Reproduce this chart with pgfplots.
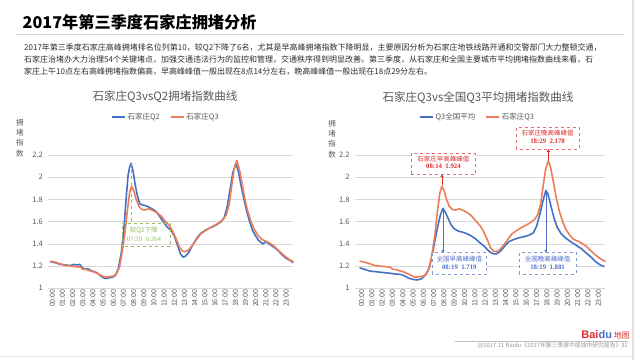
\documentclass[border=0pt]{standalone}
\usepackage{pgfplots}
\pgfplotsset{compat=1.18}
\usepackage{pgfplotstable}
\usepackage{fontspec}
\setmainfont{Noto Sans CJK SC}
\newfontfamily\serifnum{Liberation Serif}
\newfontfamily\latinsans{Liberation Sans}
\usetikzlibrary{arrows.meta}
\definecolor{qblue}{RGB}{68,114,196}
\definecolor{qorange}{RGB}{237,125,90}
\definecolor{tickgray}{RGB}{89,89,89}
\definecolor{gridgray}{RGB}{217,217,217}
\definecolor{annred}{RGB}{222,45,45}
\definecolor{annblue}{RGB}{80,110,200}
\definecolor{anngreen}{RGB}{150,190,90}
\definecolor{bodytext}{RGB}{45,45,45}

\pgfplotstableread{
h v
0 1.24
0.5 1.23
1.0 1.215
1.5 1.21
2.0 1.205
2.3 1.215
2.6 1.21
2.9 1.215
3.1 1.19
3.4 1.17
3.7 1.175
4.0 1.16
4.3 1.15
4.6 1.14
4.9 1.115
5.2 1.095
5.5 1.09
5.8 1.095
6.1 1.10
6.4 1.115
6.7 1.18
7.0 1.33
7.25 1.55
7.45 1.80
7.65 2.02
7.8 2.09
7.95 2.125
8.15 2.05
8.35 1.93
8.55 1.84
8.8 1.76
9.1 1.75
9.5 1.74
9.9 1.72
10.3 1.70
10.7 1.655
11.1 1.60
11.5 1.55
11.9 1.52
12.2 1.47
12.5 1.39
12.8 1.31
13.05 1.28
13.3 1.29
13.6 1.32
14.0 1.39
14.4 1.45
14.8 1.495
15.2 1.52
15.6 1.54
16.0 1.555
16.4 1.575
16.8 1.60
17.1 1.635
17.4 1.735
17.7 1.90
17.95 2.04
18.25 2.125
18.5 2.05
18.75 1.93
19.0 1.82
19.3 1.70
19.6 1.60
19.9 1.52
20.2 1.47
20.5 1.43
20.9 1.40
21.2 1.42
21.5 1.40
22.0 1.37
22.4 1.34
22.8 1.30
23.2 1.27
23.6 1.25
23.9 1.23
}\tblQtwo

\pgfplotstableread{
h v
0 1.245
0.5 1.235
1.0 1.22
1.5 1.205
2.0 1.20
2.5 1.195
3.0 1.19
3.2 1.17
3.5 1.17
3.8 1.16
4.2 1.15
4.6 1.135
5.0 1.115
5.4 1.10
5.8 1.105
6.2 1.11
6.5 1.13
6.8 1.19
7.0 1.29
7.3 1.47
7.55 1.68
7.8 1.86
8.0 1.92
8.2 1.88
8.45 1.80
8.7 1.74
9.0 1.71
9.3 1.705
9.7 1.715
10.1 1.70
10.5 1.68
10.9 1.65
11.3 1.605
11.7 1.565
12.0 1.52
12.4 1.44
12.7 1.37
13.0 1.335
13.3 1.33
13.6 1.345
14.0 1.39
14.4 1.44
14.8 1.49
15.2 1.515
15.6 1.54
16.0 1.56
16.5 1.585
17.0 1.62
17.3 1.66
17.6 1.76
17.85 1.93
18.1 2.08
18.35 2.15
18.6 2.07
18.85 1.95
19.1 1.82
19.4 1.70
19.7 1.61
20.0 1.54
20.4 1.48
20.8 1.44
21.2 1.425
21.6 1.405
22.0 1.38
22.4 1.345
22.8 1.31
23.2 1.28
23.6 1.255
23.9 1.24
}\tblQthree

\pgfplotstableread{
h v
0 1.185
0.5 1.17
1.0 1.155
1.5 1.15
2.0 1.145
2.5 1.14
3.0 1.135
3.5 1.128
4.0 1.125
4.4 1.11
4.8 1.09
5.2 1.08
5.6 1.075
6.0 1.085
6.4 1.12
6.7 1.17
7.0 1.27
7.3 1.42
7.6 1.56
7.85 1.66
8.1 1.72
8.35 1.68
8.6 1.63
8.9 1.57
9.2 1.535
9.6 1.515
10.2 1.50
10.7 1.48
11.2 1.45
11.7 1.41
12.2 1.37
12.6 1.33
13.0 1.31
13.3 1.31
13.7 1.335
14.1 1.38
14.5 1.42
15.0 1.44
15.5 1.455
16.0 1.465
16.5 1.48
16.9 1.50
17.2 1.56
17.5 1.66
17.8 1.78
18.1 1.88
18.3 1.85
18.6 1.74
18.9 1.63
19.2 1.55
19.6 1.49
20.0 1.455
20.5 1.42
21.0 1.39
21.5 1.36
22.0 1.32
22.5 1.28
23.0 1.235
23.4 1.21
23.8 1.195
}\tblNation

\pgfplotsset{trafficaxis/.style={
  scale only axis, height=133.3pt,
  ymin=1, ymax=2.2, ytick={1,1.2,1.4,1.6,1.8,2,2.2},
  xtick={0,...,23},
  xticklabels={00:00,01:00,02:00,03:00,04:00,05:00,06:00,07:00,08:00,09:00,10:00,11:00,12:00,13:00,14:00,15:00,16:00,17:00,18:00,19:00,20:00,21:00,22:00,23:00},
  x tick label style={rotate=90, anchor=east, font=\fontsize{7}{8}\selectfont, text=tickgray, inner sep=1pt, yshift=-2pt},
  y tick label style={font=\fontsize{7.5}{9}\selectfont, text=tickgray, xshift=-2pt},
  /pgf/number format/assume math mode=true,
  ymajorgrids, grid style={gridgray, line width=0.7pt},
  axis line style={draw=none}, major tick length=0pt,
  clip=false,
  legend style={draw=none, fill=none, legend columns=2, font=\fontsize{7.5}{9}\selectfont, text=tickgray,
    /tikz/every even column/.append style={column sep=8pt}, inner sep=0pt},
  legend image code/.code={\draw[#1] (0pt,0pt) -- (13pt,0pt);},
  every axis plot/.append style={line width=1.6pt, line join=round},
}}

\begin{document}
\begin{tikzpicture}
\useasboundingbox (0,0) rectangle (640pt,360pt);
\fill[white] (0,0) rectangle (640pt,360pt);
% slide frame
\draw[black!12, line width=1.5pt] (633pt,0pt) -- (633pt,360pt);
\draw[black!10, line width=1pt] (0pt,4pt) -- (633pt,4pt);
% main title
\node[anchor=west, inner sep=0pt, text=black] at (22.5pt,337.3pt) {\fontsize{16.2}{19}\selectfont\bfseries 2017年第三季度石家庄拥堵分析};
\draw[black!15, line width=1pt] (15pt,325.7pt) -- (625pt,325.7pt);
% body text
\begin{scope}[every node/.style={anchor=west, inner sep=0pt, text=bodytext, font=\fontsize{8}{10}\selectfont}]
\node at (24pt,312.3pt) {2017年第三季度石家庄高峰拥堵排名位列第10，较Q2下降了6名，尤其是早高峰拥堵指数下降明显，主要原因分析为石家庄地铁线路开通和交警部门大力整顿交通，};
\node at (24pt,300pt) {石家庄治堵办大力治理54个关键堵点，加强交通违法行为的监控和管理，交通秩序得到明显改善。第三季度，从石家庄和全国主要城市平均拥堵指数曲线来看，石};
\node at (24pt,288.3pt) {家庄上午10点左右高峰拥堵指数偏高，早高峰峰值一般出现在8点14分左右，晚高峰峰值一般出现在18点29分左右。};
\end{scope}
% chart titles
\node[text=tickgray, inner sep=0pt] at (165pt,263pt) {\fontsize{11.5}{13}\selectfont 石家庄Q3vsQ2拥堵指数曲线};
\node[text=tickgray, inner sep=0pt] at (478pt,262.5pt) {\fontsize{11.5}{13}\selectfont 石家庄Q3vs全国Q3平均拥堵指数曲线};
% vertical axis labels
\node[text=tickgray, align=center, inner sep=0pt, font=\fontsize{7.5}{10.3}\selectfont] at (20pt,222pt) {拥\\堵\\指\\数};
\node[text=tickgray, align=center, inner sep=0pt, font=\fontsize{7.5}{10.3}\selectfont] at (332pt,221pt) {拥\\堵\\指\\数};

% ---------- left chart ----------
\begin{axis}[trafficaxis, at={(48.3pt,71.7pt)}, anchor=south west, width=245pt,
  xmin=-0.2, xmax=23.9,
  legend style={at={(axis description cs:0.48,1.285)}, anchor=center}]
\addplot[qblue] table[x=h,y=v] {\tblQtwo};
\addlegendentry{石家庄Q2}
\addplot[qorange] table[x=h,y=v] {\tblQthree};
\addlegendentry{石家庄Q3}
\draw[anngreen, dashed, line width=0.6pt] (axis cs:7.95,2.12) -- (axis cs:7.95,1.588);
\draw[anngreen, dashed, line width=0.6pt] (axis cs:7.05,1.375) rectangle (axis cs:11.8,1.588);
\node[text=anngreen, inner sep=0pt, font=\fontsize{6.5}{8}\selectfont] at (axis cs:9.2,1.525) {较Q2下降};
\node[text=anngreen, inner sep=0pt, font=\fontsize{6.8}{8}\serifnum] at (axis cs:9.2,1.44) {07:59\ \ 0.264};
\end{axis}

% ---------- right chart ----------
\begin{axis}[trafficaxis, at={(355pt,71.7pt)}, anchor=south west, width=250pt,
  xmin=-0.45, xmax=23.85,
  legend style={at={(axis description cs:0.49,1.285)}, anchor=center}]
\addplot[qblue] table[x=h,y=v] {\tblNation};
\addlegendentry{Q3全国平均}
\addplot[qorange] table[x=h,y=v] {\tblQthree};
\addlegendentry{石家庄Q3}
% red annotations
\draw[annred, line width=0.6pt, -{Triangle[length=3pt,width=3pt]}] (axis cs:8.0,1.93) -- (axis cs:8.0,2.027);
\draw[annred!70, dashed, line width=0.6pt, fill=white] (axis cs:5.02,2.027) rectangle (axis cs:11.27,2.216);
\node[text=annred, inner sep=0pt, font=\fontsize{6.5}{8}\selectfont] at (axis cs:8.15,2.165) {石家庄早高峰峰值};
\node[text=annred, inner sep=0pt, font=\fontsize{6.8}{8}\serifnum\bfseries] at (axis cs:8.15,2.10) {08:14\ \ 1.924};
\draw[annred, line width=0.6pt, -{Triangle[length=3pt,width=3pt]}] (axis cs:18.35,2.155) -- (axis cs:18.35,2.255);
\draw[annred!70, dashed, line width=0.6pt, fill=white] (axis cs:15.23,2.255) rectangle (axis cs:21.31,2.45);
\node[text=annred, inner sep=0pt, font=\fontsize{6.5}{8}\selectfont] at (axis cs:18.27,2.395) {石家庄晚高峰峰值};
\node[text=annred, inner sep=0pt, font=\fontsize{6.8}{8}\serifnum\bfseries] at (axis cs:18.27,2.325) {18:29\ \ 2.178};
% blue annotations
\draw[annblue, line width=0.6pt, -{Triangle[length=3pt,width=3pt]}] (axis cs:8.1,1.72) -- (axis cs:8.1,1.32);
\draw[annblue!70, dashed, line width=0.6pt, fill=white] (axis cs:7.07,1.129) rectangle (axis cs:12.31,1.32);
\node[text=annblue, inner sep=0pt, font=\fontsize{6.5}{8}\selectfont] at (axis cs:9.69,1.265) {全国早高峰峰值};
\node[text=annblue, inner sep=0pt, font=\fontsize{6.8}{8}\serifnum\bfseries] at (axis cs:9.69,1.19) {08:19\ \ 1.719};
\draw[annblue, line width=0.6pt, -{Triangle[length=3pt,width=3pt]}] (axis cs:18.1,1.88) -- (axis cs:18.1,1.32);
\draw[annblue!70, dashed, line width=0.6pt, fill=white] (axis cs:15.48,1.129) rectangle (axis cs:21.06,1.32);
\node[text=annblue, inner sep=0pt, font=\fontsize{6.5}{8}\selectfont] at (axis cs:18.27,1.265) {全国晚高峰峰值};
\node[text=annblue, inner sep=0pt, font=\fontsize{6.8}{8}\serifnum\bfseries] at (axis cs:18.27,1.19) {18:19\ \ 1.881};
\end{axis}

% footer
\node[anchor=east, inner sep=0pt] at (630pt,25pt) {\latinsans\bfseries\fontsize{11}{12}\selectfont\textcolor{annred}{Bai}\textcolor{qblue}{du}\,\textcolor{annred}{\normalfont\fontsize{8}{9}\selectfont 地图}};
\draw[black!25, line width=0.5pt] (455pt,19pt) -- (628pt,19pt);
\node[anchor=east, inner sep=0pt, text=black!40, font=\fontsize{5.8}{7}\selectfont] at (628pt,14pt) {@2017.11 Baidu《2017年第三季度中国城市研究报告》32};
\end{tikzpicture}
\end{document}
